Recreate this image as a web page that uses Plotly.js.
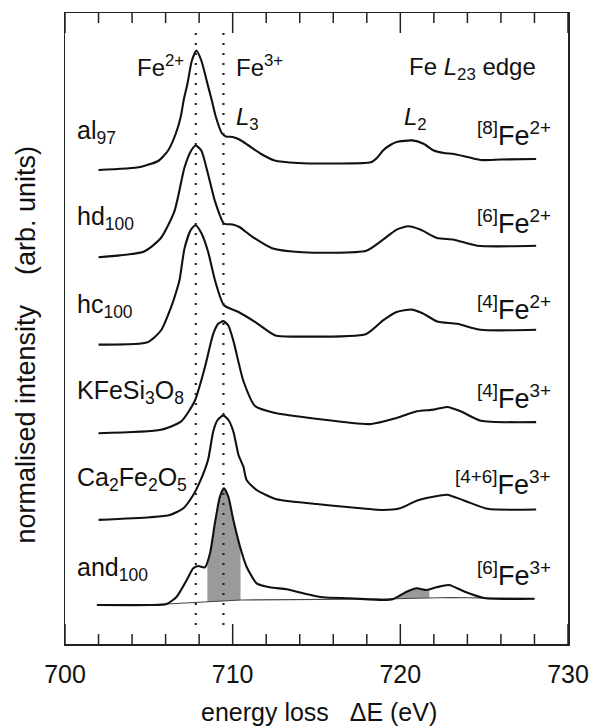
<!DOCTYPE html>
<html>
<head>
<meta charset="utf-8">
<script src="https://cdn.plot.ly/plotly-3.0.1.min.js"></script>
<style>html,body{margin:0;padding:0;background:#fff;}#chart{width:591px;height:728px;}</style>
</head>
<body>
<div id="chart"></div>
<script>
// ---- data (energy loss in eV, intensity in arbitrary units, spectra stacked) ----
const alE = [702.0, 704.5, 705.6, 706.15, 706.6, 706.9, 707.08, 707.3, 707.56, 707.84, 708.14, 708.5, 708.75, 709.0, 709.35, 709.6, 710.0, 710.4, 710.9, 711.7, 712.5, 713.9, 716.0, 718.25, 718.6, 718.97, 719.4, 719.78, 720.7, 721.38, 721.99, 722.6, 723.19, 724.0, 724.8, 726.0, 728.1];
const alI = [474, 477, 483.5, 493.5, 510, 527, 544, 560, 583, 593.5, 583, 560, 544, 527, 511, 507.5, 507, 504.5, 499, 490, 483.5, 481, 480.5, 481.7, 486, 493.5, 499, 502, 503.6, 500.2, 493.5, 491, 490, 487, 484, 484.5, 485];

const hdE = [702.0, 704.72, 705.72, 706.53, 707.13, 707.53, 707.79, 708.13, 708.53, 708.94, 709.48, 710.0, 710.4, 711.14, 712.35, 714.16, 717.97, 718.97, 719.78, 720.48, 721.19, 722.19, 723.19, 724.6, 728.1];
const hdI = [386.8, 392.5, 406, 432.9, 476.7, 493.5, 498.5, 493.5, 470, 443, 420.5, 419.5, 417, 407.6, 395.8, 391.8, 393.2, 404.3, 414.4, 417.7, 414.4, 406, 404.3, 398.2, 398.2];

const hcE = [702.0, 704.92, 705.72, 706.33, 706.63, 706.83, 707.13, 707.5, 707.79, 708.13, 708.53, 708.94, 709.48, 710.35, 711.35, 712.55, 713.76, 717.97, 718.97, 719.78, 720.69, 721.38, 722.19, 723.39, 724.8, 728.1];
const hcI = [299.4, 301.7, 313.5, 337, 352, 364, 395.8, 414, 418.7, 411, 392.5, 364, 338.7, 332, 321.9, 308.4, 307.4, 310.1, 323.6, 332, 334.4, 330.3, 322.6, 320.2, 314.2, 314.2];

const kfE = [702.0, 705.72, 706.93, 707.73, 708.34, 708.84, 709.14, 709.44, 709.74, 710.04, 710.64, 711.35, 712.55, 714.96, 718.17, 719.78, 720.98, 721.99, 722.79, 723.6, 724.8, 728.1];
const kfI = [210.8, 214.2, 222.6, 242.8, 276.5, 310.1, 320.2, 322.9, 318.5, 303.4, 263, 237.7, 231, 225.3, 219.9, 226, 232.7, 234.4, 237, 232.7, 223.3, 221.9];

const caE = [702.0, 705.07, 706.26, 707.06, 707.65, 708.05, 708.53, 708.84, 709.1, 709.44, 709.75, 710.04, 710.35, 710.64, 710.83, 711.43, 712.62, 715.01, 716.99, 718.98, 719.98, 720.97, 721.96, 722.79, 723.79, 725.2, 728.1];
const caI = [124.1, 126.7, 129, 135.7, 149, 162.3, 184, 212.5, 224, 228.6, 224, 212.5, 189, 177.3, 164, 154, 144.7, 140, 136.7, 134, 135.7, 143.3, 147.3, 149.3, 143.6, 135.2, 134.5];

const anE = [701.9, 705.07, 706.06, 706.66, 707.26, 707.65, 707.95, 708.35, 708.65, 708.94, 709.24, 709.48, 709.74, 710.04, 710.44, 710.83, 711.43, 712.22, 713.22, 714.21, 715.4, 716.99, 718.98, 719.58, 720.38, 720.97, 721.57, 722.16, 722.9, 723.79, 725.0, 728.0];
const anI = [39, 39, 40, 47.3, 64, 75.7, 78, 76.7, 90.7, 120.7, 147.3, 155.7, 147.3, 124, 97.3, 77.3, 60.7, 56.7, 54.7, 50.7, 46.7, 45.7, 44, 45, 52.3, 55.7, 54, 56.7, 59, 52.7, 46, 45.3];

// background under and100 (used for the shaded L3 and L2 areas)
const bgE = [706.06, 708.5, 710.5, 719.0, 723.0, 728.0];
const bgI = [40, 42, 44, 45, 46.5, 45.3];
const shadeL3 = [708.49, 710.47];
const shadeL2 = [719.58, 721.73];

// Fe2+ and Fe3+ L3 reference energies
const refE = [707.8, 709.45];

// axis ticks
const xRange = [700, 730];
const majorTicks = [700, 710, 720, 730];
const minorStep = 2;

const leftLabels = ['al<sub>97</sub>', 'hd<sub>100</sub>', 'hc<sub>100</sub>', 'KFeSi<sub>3</sub>O<sub>8</sub>', 'Ca<sub>2</sub>Fe<sub>2</sub>O<sub>5</sub>', 'and<sub>100</sub>'];
const rightLabels = ['<sup>[8]</sup>Fe<sup>2+</sup>', '<sup>[6]</sup>Fe<sup>2+</sup>', '<sup>[4]</sup>Fe<sup>2+</sup>', '<sup>[4]</sup>Fe<sup>3+</sup>', '<sup>[4+6]</sup>Fe<sup>3+</sup>', '<sup>[6]</sup>Fe<sup>3+</sup>'];

// ---- helpers ----
function interp(xs, ys, x) {
  for (let i = 0; i < xs.length - 1; i++) {
    if (x >= xs[i] && x <= xs[i + 1]) {
      const t = (x - xs[i]) / (xs[i + 1] - xs[i]);
      return ys[i] + t * (ys[i + 1] - ys[i]);
    }
  }
  return x < xs[0] ? ys[0] : ys[ys.length - 1];
}
function shadeTraces(range) {
  const xs = [range[0]];
  anE.forEach(e => { if (e > range[0] && e < range[1]) xs.push(e); });
  xs.push(range[1]);
  const bx = [range[0]];
  bgE.forEach(e => { if (e > range[0] && e < range[1]) bx.push(e); });
  bx.push(range[1]);
  return [
    {x: bx, y: bx.map(e => interp(bgE, bgI, e)), mode: 'lines', line: {width: 0}, hoverinfo: 'skip', showlegend: false},
    {x: xs, y: xs.map(e => interp(anE, anI, e)), mode: 'lines', line: {width: 0}, fill: 'tonexty', fillcolor: '#9a9a9a', hoverinfo: 'skip', showlegend: false}
  ];
}

const lineStyle = {color: '#111', width: 2.1, shape: 'spline', smoothing: 0.6};
const spectra = [[alE, alI], [hdE, hdI], [hcE, hcI], [kfE, kfI], [caE, caI], [anE, anI]];

const traces = [];
traces.push(...shadeTraces(shadeL3));
traces.push(...shadeTraces(shadeL2));
traces.push({x: bgE, y: bgI, mode: 'lines', line: {color: '#444', width: 1.2}, hoverinfo: 'skip', showlegend: false});
spectra.forEach(s => traces.push({x: s[0], y: s[1], mode: 'lines', line: lineStyle, showlegend: false}));

const FONT = 'Liberation Sans, Arial, Helvetica, sans-serif';
const leftY = [512, 426, 338, 252, 165, 75];
const rightY = [510, 422, 336, 247, 161, 70];

const annotations = [];
leftLabels.forEach((t, i) => annotations.push({text: t, x: 700.6, y: leftY[i], xref: 'x', yref: 'y', xanchor: 'left', yanchor: 'middle', showarrow: false, font: {family: FONT, size: 25, color: '#111'}}));
rightLabels.forEach((t, i) => annotations.push({text: t, x: 729.1, y: rightY[i], xref: 'x', yref: 'y', xanchor: 'right', yanchor: 'middle', showarrow: false, font: {family: FONT, size: 27, color: '#111'}}));
annotations.push({text: 'Fe<sup>2+</sup>', x: 705.7, y: 578, xref: 'x', yref: 'y', xanchor: 'center', yanchor: 'middle', showarrow: false, font: {family: FONT, size: 24, color: '#111'}});
annotations.push({text: 'Fe<sup>3+</sup>', x: 711.6, y: 578, xref: 'x', yref: 'y', xanchor: 'center', yanchor: 'middle', showarrow: false, font: {family: FONT, size: 24, color: '#111'}});
annotations.push({text: 'Fe <i>L</i><sub>23</sub> edge', x: 724.3, y: 576, xref: 'x', yref: 'y', xanchor: 'center', yanchor: 'middle', showarrow: false, font: {family: FONT, size: 24, color: '#111'}});
annotations.push({text: '<i>L</i><sub>3</sub>', x: 710.1, y: 526, xref: 'x', yref: 'y', xanchor: 'left', yanchor: 'middle', showarrow: false, font: {family: FONT, size: 24, color: '#111'}});
annotations.push({text: '<i>L</i><sub>2</sub>', x: 720.1, y: 526, xref: 'x', yref: 'y', xanchor: 'left', yanchor: 'middle', showarrow: false, font: {family: FONT, size: 24, color: '#111'}});
annotations.push({text: 'energy loss\u00a0\u00a0\u00a0\u0394E (eV)', x: 0.505, y: -0.108, xref: 'paper', yref: 'paper', xanchor: 'center', yanchor: 'middle', showarrow: false, font: {family: FONT, size: 25, color: '#111'}});
annotations.push({text: 'normalised intensity\u00a0\u00a0\u00a0\u00a0(arb. units)', x: -0.077, y: 0.475, xref: 'paper', yref: 'paper', xanchor: 'center', yanchor: 'middle', textangle: -90, showarrow: false, font: {family: FONT, size: 27, color: '#111'}});

// dotted reference lines
const shapes = refE.map(e => ({type: 'line', xref: 'x', yref: 'paper', x0: e, x1: e, y0: 0.03, y1: 0.973, layer: 'above', line: {color: '#222', width: 2.2, dash: '2px,8px'}}));

// tick marks on bottom and top edges (inside), drawn as pixel-length shapes at axis values
const TICKCOL = '#222';
for (let v = xRange[0]; v <= xRange[1] + 1e-9; v += minorStep) {
  const len = majorTicks.includes(v) ? 20 : 10;
  shapes.push({type: 'line', xref: 'x', yref: 'paper', ysizemode: 'pixel', yanchor: 0, x0: v, x1: v, y0: 0, y1: len, layer: 'above', line: {color: TICKCOL, width: 1.5}});
  shapes.push({type: 'line', xref: 'x', yref: 'paper', ysizemode: 'pixel', yanchor: 1, x0: v, x1: v, y0: 0, y1: -len, layer: 'above', line: {color: TICKCOL, width: 1.5}});
}

const layout = {
  width: 591, height: 728,
  margin: {l: 65, r: 23, t: 13, b: 84},
  paper_bgcolor: '#fff', plot_bgcolor: '#fff',
  showlegend: false,
  xaxis: {
    range: xRange, showgrid: false, zeroline: false,
    showline: true, linecolor: '#222', linewidth: 1.5, mirror: true,
    tickmode: 'array', tickvals: majorTicks, ticktext: majorTicks.map(String),
    ticks: '', ticklabelstandoff: 7,
    tickfont: {family: FONT, size: 25, color: '#111'}
  },
  yaxis: {
    range: [0, 631], showgrid: false, zeroline: false, showticklabels: false, ticks: '',
    showline: true, linecolor: '#222', linewidth: 1.5, mirror: true
  },
  annotations: annotations,
  shapes: shapes
};

Plotly.newPlot('chart', traces, layout, {displayModeBar: false, staticPlot: true});
</script>
</body>
</html>
